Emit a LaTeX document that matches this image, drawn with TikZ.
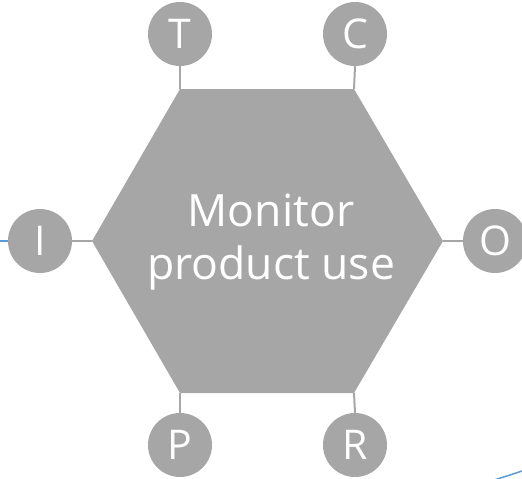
\documentclass[tikz,border=0pt]{standalone}
\usepackage{fontspec}
\setmainfont{Open Sans}
\definecolor{hexgray}{HTML}{A6A6A6}
\definecolor{linegray}{HTML}{A6A6A6}
\definecolor{blueln}{HTML}{5B9BD5}
\begin{document}
\begin{tikzpicture}[x=1pt,y=-1pt,
  ball/.style={circle,fill=hexgray,minimum size=64pt,inner sep=0pt,text=white,font=\fontsize{41}{41}\selectfont},
  link/.style={draw=linegray,line width=2pt},
  blue/.style={draw=blueln,line width=1.5pt}]
\useasboundingbox (0,0) rectangle (522,479);
\fill[hexgray] (180,89) -- (354,89) -- (443,241) -- (354,393) -- (180,393) -- (92,241) -- cycle;
\node[text=white,align=center,font=\fontsize{44.5}{53}\selectfont] (main) at (271,242) {Monitor\\product use};
\coordinate (vt) at (180,89);
\coordinate (vc) at (354,89);
\coordinate (vi) at (92,241);
\coordinate (vo) at (443,241);
\coordinate (vp) at (180,393);
\coordinate (vr) at (354,393);
\node[ball] (T) at (180,34) {T};
\node[ball] (C) at (355,34) {C};
\node[ball] (I) at (40,241) {I};
\node[ball] (O) at (495,241) {O};
\node[ball] (P) at (180,445) {P};
\node[ball] (R) at (355,445) {R};
\draw[link] (T.south) -- (vt);
\draw[link] (C.south) -- (vc);
\draw[link] (I.east) -- (vi);
\draw[link] (O.west) -- (vo);
\draw[link] (P.north) -- (vp);
\draw[link] (R.north) -- (vr);
\coordinate (bl) at (0,241);
\coordinate (br1) at (494,480);
\coordinate (br2) at (522,471);
\draw[blue] (bl) -- (I.west);
\draw[blue] (br1) .. controls (507,476) .. (br2);
\end{tikzpicture}
\end{document}
